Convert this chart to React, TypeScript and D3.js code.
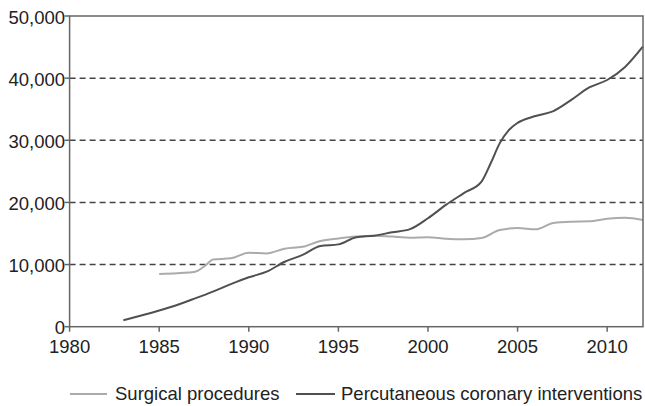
import React from "react";
import * as d3 from "d3";

const surgicalYears = [1985, 1986, 1987, 1987.6, 1988, 1989, 1990, 1991, 1992, 1993, 1994, 1995, 1996, 1997, 1998, 1999, 2000, 2001, 2002, 2003, 2004, 2005, 2006, 2007, 2008, 2009, 2010, 2011, 2012];
const surgicalValues = [8500, 8600, 8850, 9900, 10800, 11000, 11900, 11800, 12550, 12850, 13800, 14200, 14500, 14650, 14500, 14330, 14400, 14150, 14060, 14270, 15550, 15880, 15670, 16700, 16900, 16950, 17380, 17540, 17170];

const pciYears = [1983, 1984, 1985, 1986, 1987, 1988, 1989, 1990, 1991, 1992, 1993, 1994, 1995, 1996, 1997, 1998, 1999, 2000, 2001, 2002, 2003, 2003.5, 2004, 2004.5, 2005, 2006, 2007, 2008, 2009, 2010, 2011, 2012];
const pciValues = [1050, 1800, 2600, 3500, 4550, 5650, 6850, 7950, 8850, 10450, 11550, 13000, 13250, 14400, 14650, 15200, 15700, 17450, 19600, 21500, 23400, 26300, 29500, 31600, 32800, 33900, 34700, 36500, 38500, 39700, 41800, 45100];

const yTicks = [0, 10000, 20000, 30000, 40000, 50000];
const gridTicks = [10000, 20000, 30000, 40000];
const xTicks = [1980, 1985, 1990, 1995, 2000, 2005, 2010];
const seriesNames = ["Surgical procedures", "Percutaneous coronary interventions"];

export default function App() {
  const W = 645, H = 406;
  const left = 69.6, right = 643, top = 16, bottom = 326.7;
  const x = d3.scaleLinear().domain([1980, 2012]).range([left, right]);
  const y = d3.scaleLinear().domain([0, 50000]).range([bottom, top]);
  const line = d3.line<[number, number]>().x(d => x(d[0])).y(d => y(d[1])).curve(d3.curveMonotoneX);
  const sPath = line(surgicalYears.map((v, i) => [v, surgicalValues[i]] as [number, number])) || "";
  const pPath = line(pciYears.map((v, i) => [v, pciValues[i]] as [number, number])) || "";
  const fmt = d3.format(",");
  const font = "Liberation Sans, Arial, sans-serif";
  const fs = 18.5;
  return (
    <svg width={W} height={H} style={{ position: "absolute", left: 0, top: 0, background: "#fff" }} fontFamily={font}>
      {gridTicks.map(t => (
        <line key={t} x1={left} x2={right} y1={y(t)} y2={y(t)} stroke="#444" strokeWidth={1.5} strokeDasharray="6,4" />
      ))}
      <path d={sPath} fill="none" stroke="#ababab" strokeWidth={2} />
      <path d={pPath} fill="none" stroke="#505050" strokeWidth={2} />
      <rect x={left} y={top} width={right - left} height={bottom - top} fill="none" stroke="#666" strokeWidth={1.5} />
      {yTicks.map(t => (
        <g key={t}>
          <line x1={left - 5} x2={left} y1={y(t)} y2={y(t)} stroke="#666" strokeWidth={1.5} />
          <text x={left - 4.5} y={y(t) + 7.5} textAnchor="end" fontSize={fs} fill="#222">{fmt(t)}</text>
        </g>
      ))}
      {xTicks.map(t => (
        <g key={t}>
          <line x1={x(t)} x2={x(t)} y1={bottom} y2={bottom + 5} stroke="#666" strokeWidth={1.5} />
          <text x={x(t)} y={bottom + 26.6} textAnchor="middle" fontSize={fs} fill="#222">{t}</text>
        </g>
      ))}
      <line x1={70} x2={107} y1={394} y2={394} stroke="#ababab" strokeWidth={2} />
      <text x={115} y={399.5} fontSize={fs} fill="#222">{seriesNames[0]}</text>
      <line x1={296} x2={335} y1={394} y2={394} stroke="#505050" strokeWidth={2} />
      <text x={341} y={399.5} fontSize={fs} fill="#222">{seriesNames[1]}</text>
    </svg>
  );
}
